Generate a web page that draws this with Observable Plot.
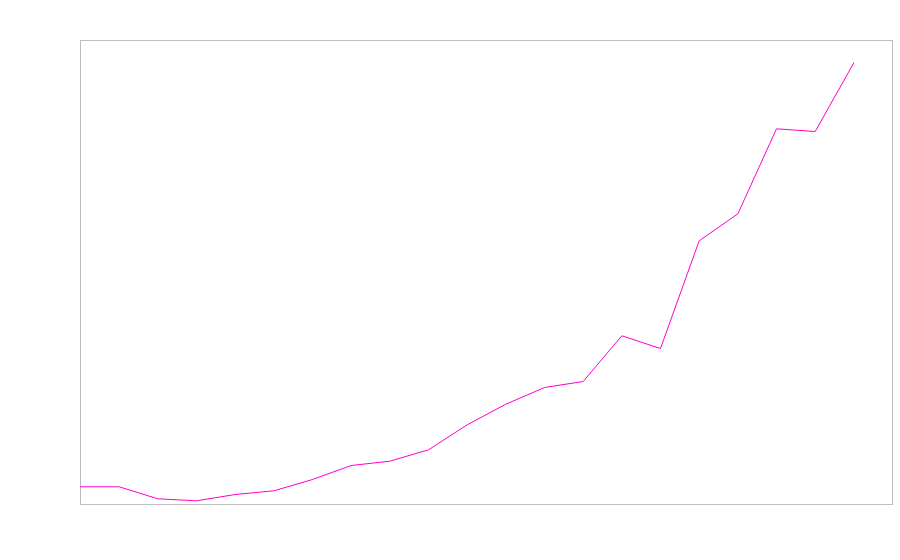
<!DOCTYPE html>
<html>
<head>
<meta charset="utf-8">
<script src="https://cdn.jsdelivr.net/npm/d3@7"></script>
<script src="https://cdn.jsdelivr.net/npm/@observablehq/plot@0.6"></script>
<style>
  html, body { margin: 0; padding: 0; background: #fff; }
  #chart { width: 900px; height: 560px; }
</style>
</head>
<body>
<div id="chart"></div>
<script>
// Period index and values
const periods = [0, 1, 2, 3, 4, 5, 6, 7, 8, 9, 10, 11, 12, 13, 14, 15, 16, 17, 18, 19, 20];
const values = [17.7, 17.7, 5.7, 3.7, 10, 13.7, 25, 39, 43.3, 54.7, 79.7, 100.3, 117, 123, 168.7, 156, 263.7, 290.7, 375.7, 373, 441.7];

const data = periods.map((p, i) => ({ period: p, value: values[i] }));

const chart = Plot.plot({
  width: 900,
  height: 560,
  marginLeft: 80,
  marginRight: 8,
  marginTop: 40,
  marginBottom: 56,
  style: { background: "#fff" },
  x: { domain: [0, 21], axis: null },
  y: { domain: [0, 464], axis: null },
  marks: [
    Plot.frame({ stroke: "#bdbdbd" }),
    Plot.line(data, { x: "period", y: "value", stroke: "#ff00c8", strokeWidth: 1 })
  ]
});
document.getElementById("chart").appendChild(chart);
</script>
</body>
</html>
